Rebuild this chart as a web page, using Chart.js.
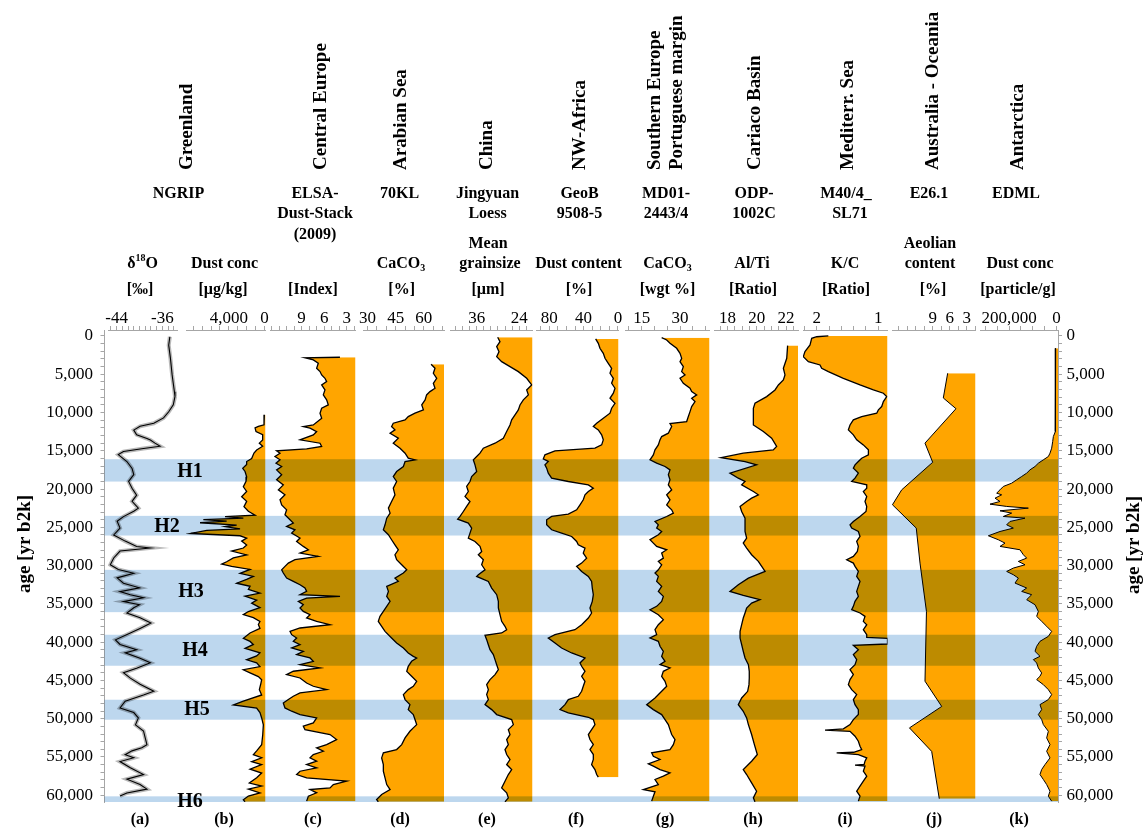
<!DOCTYPE html>
<html>
<head>
<meta charset="utf-8">
<title>Dust records and Heinrich stadials, 0–61 ka</title>
<script src="https://cdn.jsdelivr.net/npm/chart.js@4.4.1/dist/chart.umd.min.js"></script>
<style>
  html, body { margin: 0; padding: 0; background: #ffffff; }
  #box { position: relative; width: 1145px; height: 830px; }
</style>
</head>
<body>
<div id="box"><canvas id="dust" width="1145" height="830"></canvas></div>
<script>
// ---------------------------------------------------------------------------
// Records: [age in yr b2k, value]
// ---------------------------------------------------------------------------
const ngripD18O = [[100,-34.7],[1200,-34.9],[2900,-34.6],[5100,-34.3],[7300,-33.9],[7900,-33.8],[9000,-34.1],[9900,-34.9],[10700,-35.8],[11400,-37.5],
  [11800,-39.9],[12300,-41.0],[12900,-40.5],[13400,-38.7],[13600,-38.1],[14000,-37.3],[14400,-36.4],[14700,-39.3],[15100,-42.8],[15500,-43.7],
  [16400,-42.2],[17300,-41.3],[18100,-41.0],[19000,-41.9],[19900,-41.3],[20800,-40.5],[21600,-41.3],[22500,-40.2],[22900,-41.0],[23600,-42.8],
  [24200,-43.9],[25100,-43.4],[26000,-44.5],[26800,-42.5],[27500,-40.5],[27700,-38.1],[28100,-43.4],[29000,-44.5],[29900,-45.1],[30500,-43.7],
  [31000,-41.0],[31600,-43.9],[32300,-42.8],[32900,-40.0],[33400,-43.4],[33800,-41.6],[34200,-39.3],[34700,-42.8],[35100,-40.0],[35500,-41.0],
  [36200,-42.2],[36800,-39.9],[37500,-38.0],[38200,-39.9],[38800,-41.6],[39700,-44.2],[40300,-43.4],[41000,-40.5],[41400,-42.5],[42100,-39.9],
  [42700,-38.1],[43400,-40.5],[44000,-42.8],[44700,-41.6],[45500,-39.9],[46400,-37.5],[46900,-39.3],[47700,-42.5],[48600,-43.4],[49200,-41.0],
  [49900,-40.2],[50800,-40.7],[51600,-39.3],[52500,-39.0],[53400,-38.7],[53800,-39.6],[54200,-41.3],[54700,-42.5],[55100,-41.0],[55600,-43.4],
  [56400,-41.6],[57300,-39.3],[57900,-42.2],[58600,-39.9],[59200,-38.7],[59700,-42.2],[60100,-43.4]];

const ngripDust = [[10300,30],[11600,67],[11800,700],[12000,1070],[12500,960],[12900,220],[13600,220],[14000,590],[14400,220],[14900,890],
  [15300,1190],[16000,1450],[16400,2010],[16800,2010],[17300,2450],[17700,2190],[18400,2010],[19000,2080],[19700,2380],[20300,2010],
  [21000,2570],[21600,2010],[22300,2310],[22900,1820],[23400,1070],[23600,4430],[23800,2380],[24000,6860],[24200,4250],[24400,7230],
  [24700,3130],[24900,4430],[25200,2750],[25400,6480],[25800,8270],[26100,2750],[26400,2010],[26800,2570],[27300,2010],[27700,2380],
  [28100,3690],[28600,2010],[29000,3500],[29500,4250],[29800,4800],[30100,3690],[30500,1630],[31000,2750],[31400,1260],[31800,2010],
  [32300,3130],[32700,1630],[33100,1820],[33600,520],[34000,2190],[34500,890],[34900,1450],[35500,520],[36000,1820],[36400,2380],
  [36800,1260],[37300,520],[37700,700],[38200,520],[38800,1630],[39500,2380],[39900,1630],[40300,1260],[40800,2190],[41400,520],
  [41800,890],[42300,2010],[42700,890],[43200,520],[43600,2380],[44000,1630],[44500,700],[44900,330],[45500,440],[46200,590],
  [46900,330],[47700,2380],[48200,3500],[48600,890],[49200,520],[49900,330],[50800,140],[52100,210],[53400,330],[54200,890],
  [54700,1260],[55100,330],[55600,1450],[56000,330],[56600,1630],[57100,330],[57700,890],[58400,1710],[58800,330],[59200,1820],
  [59700,520],[60100,1820],[60600,2380],[60850,2190]];

const elsaDustIndex = [[2780,3.9],[2850,8.55],[3130,7.44],[3570,6.78],[4220,7.0],[4650,6.55],[5090,6.33],[5530,5.89],[5960,5.67],[6400,6.33],
  [7050,5.89],[7700,6.11],[8350,5.67],[9000,5.45],[9440,6.33],[10090,6.55],[10750,6.33],[11620,7.44],[11830,8.77],[12050,7.88],
  [12490,7.0],[12920,7.44],[13570,9.21],[14010,6.55],[14440,6.33],[14750,8.33],[15010,12.32],[15310,11.87],[15750,12.54],[16180,11.87],
  [16620,12.4],[17050,11.65],[17490,12.32],[18140,11.65],[18790,12.32],[19450,11.43],[20100,12.09],[20750,11.21],[21400,11.87],[22060,11.65],
  [22710,10.99],[23360,11.21],[24010,10.54],[24450,10.1],[24880,10.99],[25320,9.88],[25750,10.32],[26400,9.21],[26840,9.66],[27490,8.77],
  [27930,8.1],[28360,9.21],[28800,6.78],[29230,9.88],[29670,10.76],[30100,11.21],[30540,11.65],[30970,11.43],[31620,10.99],[32060,10.1],
  [32500,9.21],[32930,8.55],[33360,8.33],[33800,9.21],[34020,3.89],[34240,8.33],[34670,9.43],[35100,8.77],[35540,9.21],[35980,8.77],
  [36410,7.88],[36840,8.33],[37280,7.0],[37720,5.22],[38150,9.21],[38580,10.54],[39020,10.32],[39460,9.66],[39890,10.1],[40320,9.21],
  [40760,10.32],[41200,8.77],[41630,9.66],[42060,7.88],[42500,7.44],[42940,9.21],[43370,6.55],[43800,10.1],[44240,10.99],[44680,9.21],
  [45330,8.33],[45760,7.44],[46200,5.67],[46630,9.21],[47070,10.1],[47500,10.76],[47940,11.43],[48590,11.21],[49020,10.32],[49460,9.21],
  [49900,7.0],[50550,7.44],[50980,8.77],[51420,8.55],[52070,5.22],[52720,4.34],[53380,5.67],[53810,7.0],[54250,6.11],[54680,7.44],
  [55120,7.88],[55550,7.0],[55990,8.33],[56420,7.0],[56860,9.21],[57290,9.66],[57730,8.33],[58160,3.01],[58600,4.78],[59030,5.22],
  [59250,7.88],[59680,7.0],[60120,8.1],[60770,8.33]];

const arabianSeaCaCO3 = [[3700,63.9],[4220,66.0],[4870,65.1],[5530,66.9],[6180,65.1],[6830,66.0],[7270,63.3],[7700,61.5],[8350,60.7],[9000,58.9],
  [9660,59.8],[10090,55.3],[10530,51.7],[10960,50.0],[11400,43.7],[11830,42.8],[12270,44.6],[12700,42.0],[13360,46.4],[14010,43.7],
  [14660,47.3],[15310,50.0],[15970,51.7],[16180,55.3],[16400,50.0],[17050,49.1],[17710,45.5],[18360,43.7],[19010,45.5],[19880,43.7],
  [20750,44.6],[21620,42.8],[22490,41.1],[23140,42.0],[23800,40.2],[24670,39.3],[25320,38.4],[25970,41.1],[26620,42.8],[27280,44.6],
  [27930,46.4],[28580,44.6],[29230,45.5],[29890,48.2],[30540,50.9],[30970,49.1],[31630,44.6],[32060,46.4],[32710,40.2],[33370,41.1],
  [34020,40.2],[34670,42.0],[35320,40.2],[35980,38.4],[36630,36.6],[37280,35.7],[37930,37.5],[38590,39.3],[39460,42.8],[40110,45.5],
  [40760,49.1],[41410,51.7],[41850,54.4],[42070,56.2],[42500,53.5],[43150,51.7],[43810,50.9],[44460,53.5],[45110,56.2],[45760,54.4],
  [46200,51.7],[46850,49.1],[47500,50.0],[48160,52.6],[48810,51.7],[49460,54.4],[50110,55.3],[50770,56.2],[51200,54.4],[51640,52.6],
  [52510,50.0],[53380,48.2],[54030,45.5],[54460,38.4],[55120,37.5],[55990,38.4],[56860,38.4],[57730,39.3],[58600,40.2],[59250,42.0],
  [59900,37.5],[60550,34.8],[60860,35.7]];

const jingyuanGrainsize = [[170,30.09],[740,29.44],[1390,30.37],[2050,29.72],[2700,30.37],[3350,28.97],[4000,26.62],[4660,24.27],[5530,21.92],[6400,20.51],
  [7050,21.92],[7700,21.45],[8350,22.86],[9010,23.8],[9660,24.27],[10310,25.21],[10960,26.15],[11620,26.62],[12490,27.56],[13360,28.5],
  [14010,30.84],[14660,34.13],[15310,35.07],[15750,36.01],[16180,36.95],[16840,36.48],[17710,36.01],[18360,37.42],[19010,37.89],[19660,38.83],
  [20320,38.36],[20970,39.29],[21620,37.89],[22270,38.83],[22930,39.76],[23580,40.7],[23930,41.36],[24450,38.36],[25100,37.42],[25750,37.89],
  [26410,38.36],[26840,36.48],[27490,35.07],[28150,34.6],[28580,35.54],[29230,34.13],[29890,34.6],[30540,33.66],[31190,35.54],[31410,36.01],
  [32060,32.72],[32930,31.78],[33800,30.37],[34670,29.9],[35540,29.9],[36410,29.44],[37280,28.97],[37930,28.03],[38370,27.56],[38800,28.97],
  [39110,33.66],[39670,33.19],[40330,32.72],[40980,32.25],[41630,31.31],[42280,30.84],[42940,30.37],[43590,29.9],[44240,30.84],[44890,32.25],
  [45550,33.19],[46200,32.72],[46850,33.19],[47500,32.72],[48160,33.66],[48810,31.78],[49460,30.37],[50110,26.15],[50770,25.68],[51420,27.09],
  [52070,26.62],[52720,27.56],[53380,27.09],[54030,28.03],[54680,27.56],[55330,26.62],[55990,27.56],[56640,26.15],[57290,27.09],[58160,28.03],
  [59030,28.97],[59680,27.56],[60340,27.09],[60860,28.03]];

const nwAfricaDust = [[390,26.0],[960,22.9],[1610,21.0],[2260,17.1],[2920,15.1],[3570,11.3],[4220,7.4],[4870,9.3],[5530,5.4],[6180,7.4],
  [6830,3.5],[7480,5.4],[8140,9.3],[8790,3.5],[9440,7.4],[10090,9.3],[10750,17.1],[11400,24.8],[11830,28.7],[12270,22.9],
  [12920,19.0],[13570,17.1],[14230,19.0],[14660,26.8],[15010,73.3],[15530,85.0],[16050,86.9],[16400,81.1],[16840,85.0],[17270,83.0],
  [17920,81.1],[18580,77.2],[19010,57.8],[19450,34.5],[19880,28.7],[20320,34.5],[20750,38.4],[21400,40.4],[22060,44.2],[22710,48.1],
  [23270,57.8],[23580,77.2],[24010,83.0],[24670,83.0],[25320,77.2],[25750,65.6],[26190,53.9],[26840,48.1],[27280,46.2],[27710,38.4],
  [28360,40.4],[29020,36.5],[29670,42.3],[30100,48.1],[30760,42.3],[31410,34.5],[32060,30.7],[32930,29.9],[33800,28.7],[34670,29.9],
  [35540,32.6],[36190,30.7],[36850,34.5],[37720,42.3],[38370,50.1],[39020,73.3],[39460,81.1],[40110,73.3],[40760,65.6],[41410,53.9],
  [42070,38.4],[42720,44.2],[43150,42.3],[43810,38.4],[44460,42.3],[45110,38.4],[45760,40.4],[46420,42.3],[47070,46.2],[47500,57.8],
  [48160,61.7],[48810,67.5],[49240,57.8],[49810,34.5],[50110,28.7],[50770,26.8],[51420,30.7],[52070,34.5],[52720,32.6],[53380,28.7],
  [54030,32.6],[54680,28.7],[55330,28.7],[55990,30.7],[56640,26.8],[57290,24.8],[57640,22.9]];

const portugalCaCO3 = [[220,22.82],[520,24.78],[960,26.08],[1610,28.69],[2260,30.0],[2920,30.65],[3350,30.0],[4000,31.3],[4660,30.65],[5090,31.96],
  [5530,30.0],[6180,31.3],[6830,33.92],[7270,34.57],[7700,36.53],[8140,34.57],[8570,35.88],[9220,34.57],[9880,33.92],[10530,33.26],
  [11180,32.61],[11440,26.08],[11830,26.74],[12270,26.08],[12700,25.43],[13140,22.82],[13570,22.17],[14230,21.51],[14880,20.21],[15530,19.56],
  [16180,18.25],[16620,20.86],[17050,24.13],[17490,26.08],[18140,25.43],[18790,26.08],[19450,25.43],[20100,26.74],[20750,24.78],[21400,26.08],
  [22060,24.78],[22710,26.74],[23140,27.39],[23580,24.78],[24230,20.21],[24670,21.51],[25100,20.86],[25540,22.82],[25970,21.51],[26620,18.25],
  [27060,19.56],[27490,20.86],[27930,24.78],[28360,22.82],[29020,23.47],[29450,21.51],[29890,22.82],[30540,21.51],[30970,20.21],[31410,21.51],
  [32060,20.86],[32710,22.82],[33370,21.51],[34020,23.47],[34670,22.82],[35320,20.86],[35760,18.25],[36410,21.51],[37060,23.47],[37720,21.51],
  [38370,20.21],[39020,20.86],[39460,18.25],[39890,21.51],[40540,22.17],[41200,23.47],[41850,22.82],[42500,24.13],[42940,22.17],[43370,26.08],
  [43810,23.47],[44460,22.82],[45110,24.13],[45760,24.78],[46420,22.82],[47290,20.21],[48160,16.95],[48810,19.56],[49460,22.82],[50110,24.13],
  [50770,25.43],[51420,26.08],[52070,26.74],[52720,28.04],[53380,27.39],[54030,26.08],[54460,18.9],[54900,19.56],[55330,22.17],[55900,17.6],
  [56200,19.56],[56640,22.17],[57070,26.08],[57510,23.47],[57940,20.21],[58600,21.51],[59250,15.64],[59550,20.21],[60120,19.56],[60770,18.9]];

const cariacoAlTi = [[1260,22.11],[2920,22.05],[4220,21.82],[5090,21.93],[5740,21.82],[6400,21.48],[7050,21.25],[7920,20.68],[8790,19.88],[9440,19.77],
  [10090,19.77],[10960,19.77],[11620,19.77],[12490,20.45],[13360,21.02],[14440,21.36],[14880,21.13],[15310,19.08],[15900,17.56],[16400,19.2],
  [16840,19.99],[17920,18.17],[18580,18.74],[19010,19.2],[19450,18.97],[20320,19.77],[20750,20.11],[21190,19.65],[21620,19.31],[22270,18.86],
  [22930,18.97],[23800,19.2],[24670,19.2],[25540,19.2],[26410,19.31],[27060,19.08],[27710,19.31],[28580,19.65],[29450,20.11],[30100,20.34],
  [30760,20.57],[31630,19.43],[32500,18.74],[33370,18.17],[33890,19.08],[34450,20.22],[34890,19.65],[35540,19.31],[36190,19.2],[36850,19.08],
  [37720,18.97],[38590,18.86],[39460,18.86],[40330,18.97],[41200,19.08],[42070,19.2],[42940,19.43],[43810,19.49],[44680,19.49],[45550,19.47],
  [46420,19.38],[47290,18.97],[48160,18.74],[49030,19.08],[49900,19.31],[50770,19.43],[52070,19.65],[53380,19.84],[54680,20.04],[55550,19.65],
  [56640,19.08],[57290,19.31],[58380,19.65],[59470,19.99],[60340,19.77],[60860,19.88]];

const mediterrKC = [[0,1.811],[100,2.0],[300,2.081],[1180,2.108],[2050,2.19],[2700,2.217],[3350,2.135],[3790,1.946],[4220,1.919],[4660,1.811],
  [5530,1.567],[6400,1.297],[7050,1.080],[7480,0.918],[7920,0.864],[8570,0.918],[9220,0.945],[9660,0.999],[10090,1.026],[10530,1.270],
  [10960,1.405],[11620,1.459],[12270,1.486],[12920,1.405],[13570,1.351],[14230,1.243],[14880,1.161],[15530,1.161],[15970,1.270],[16400,1.324],
  [16840,1.378],[17270,1.405],[17920,1.324],[18580,1.378],[19010,1.432],[19450,1.188],[19880,1.188],[20320,1.243],[20970,1.188],[21620,1.216],
  [22270,1.188],[22930,1.2],[23580,1.297],[24230,1.405],[24670,1.459],[25100,1.432],[25540,1.324],[26190,1.297],[26840,1.351],[27490,1.324],
  [28150,1.340],[28800,1.405],[29230,1.513],[29670,1.405],[30100,1.378],[30760,1.324],[31410,1.351],[32060,1.297],[32710,1.324],[33370,1.351],
  [34020,1.324],[34670,1.378],[35320,1.405],[35760,1.432],[36190,1.297],[36630,1.216],[37280,1.243],[37720,1.188],[38370,1.243],[39020,1.188],
  [39370,1.188],[39500,0.851],[40240,0.851],[40410,1.405],[40980,1.324],[41630,1.405],[42280,1.351],[42940,1.378],[43590,1.459],[44240,1.405],
  [44890,1.459],[45550,1.486],[46200,1.432],[46850,1.351],[47500,1.405],[48160,1.378],[48810,1.324],[49460,1.324],[50110,1.405],[50770,1.459],
  [51330,1.567],[51500,1.865],[51640,1.459],[52290,1.378],[52940,1.324],[53590,1.297],[54030,1.270],[54380,1.40],[54460,1.676],[54680,1.324],
  [55120,1.188],[55550,1.216],[55980,1.230],[56070,1.378],[56200,1.216],[56860,1.243],[57510,1.188],[58160,1.243],[58810,1.297],[59470,1.351],
  [60120,1.297],[60770,1.324]];

const australiaAeolian = [[4870,6.36],[8100,7.13],[9500,4.89],[14000,10.36],[16500,9.0],[20100,14.47],[22050,16.1],[25100,11.9],[29670,11.24],[36000,10.1],
  [45100,10.36],[48400,7.41],[51200,13.1],[54270,9.18],[60450,7.84]];

const edmlDust = [[1610,3500],[5090,3500],[9440,4900],[12490,6300],[13140,13300],[13790,16100],[14660,20400],[15310,27400],[15750,34400],[16180,55400],
  [16620,76500],[17050,90500],[17490,111600],[17920,125600],[18360,146700],[18790,167700],[19230,188800],[19660,223900],[20100,237900],[20530,251900],
  [20750,230900],[21190,258900],[21620,237900],[21970,280000],[22270,209800],[22490,118600],[22840,237900],[23140,188800],[23580,223900],[23800,132600],
  [24230,195800],[24670,209800],[25100,181800],[25540,237900],[26100,287000],[26620,244900],[27060,216800],[27490,237900],[27930,153700],[28580,139600],
  [29020,125600],[29450,160700],[29890,132600],[30320,181800],[30760,209800],[31190,181800],[31630,160700],[32280,174700],[32930,125600],[33370,146700],
  [33800,104600],[34450,125600],[35110,90500],[35980,76500],[36630,83500],[37280,62500],[37930,41400],[38590,20400],[39240,34400],[39890,69500],
  [40540,83500],[41200,90500],[41850,69500],[42280,97500],[42720,83500],[43370,76500],[44020,62500],[44460,69500],[44890,83500],[45550,55400],
  [46200,34400],[46850,20400],[47500,34400],[48160,69500],[48810,62500],[49460,76500],[50110,62500],[50770,55400],[51640,34400],[52510,41400],
  [53380,27400],[54250,41400],[55120,27400],[55990,48400],[56640,62500],[57290,69500],[57940,55400],[58600,41400],[59470,27400],[60120,34400],
  [60770,20400]];

// Heinrich stadials (top / base, yr b2k)
const heinrichNames = ['H1', 'H2', 'H3', 'H4', 'H5', 'H6'];
const heinrichTop  = [16100, 23500, 30550, 39030, 47520, 60140];
const heinrichBase = [19020, 26070, 36080, 43080, 50130, 60900];
const heinrichLabelAge = [17700, 24900, 33400, 41100, 48900, 60800];

// Age axis
const ageMin = -780, ageMax = 60880;
const ageLabelStep = 5000, ageTickStep = 1000, ageTickMax = 60000;

// ---------------------------------------------------------------------------
// Panel layout and axis settings (left to right)
// ---------------------------------------------------------------------------
const panels = [
  { key: 'a', data: ngripD18O,        min: -45.5, max: -33.45, reverse: false, labels: [-44, -36],   step: 1,     gap: 3.5, width: 69,   fill: false, halo: true },
  { key: 'b', data: ngripDust,        min: -100,  max: 8800,   reverse: true,  labels: [4000, 0],    step: 1000,  gap: 9,   width: 79.5, fill: true },
  { key: 'c', data: elsaDustIndex,    min: 1.83,  max: 13.2,   reverse: true,  labels: [9, 6, 3],    step: 1,     gap: 4.5, width: 85.5, fill: true },
  { key: 'd', data: arabianSeaCaCO3,  min: 27.8,  max: 70.8,   reverse: false, labels: [30, 45, 60], step: 5,     gap: 8,   width: 80.5, fill: true },
  { key: 'e', data: jingyuanGrainsize,min: 20.28, max: 43.52,  reverse: true,  labels: [36, 24],     step: 2,     gap: 6,   width: 82.5, fill: true },
  { key: 'f', data: nwAfricaDust,     min: -0.6,  max: 95.4,   reverse: true,  labels: [80, 40, 0],  step: 10,    gap: 3.5, width: 82.5, fill: true },
  { key: 'g', data: portugalCaCO3,    min: 8.46,  max: 41.55,  reverse: false, labels: [15, 30],     step: 5,     gap: 6.5, width: 84.5, fill: true },
  { key: 'h', data: cariacoAlTi,      min: 17.08, max: 22.82,  reverse: false, labels: [18, 20, 22], step: 0.5,   gap: 4.5, width: 84,   fill: true },
  { key: 'i', data: mediterrKC,       min: 0.851, max: 2.222,  reverse: true,  labels: [2, 1],       step: 0.2,   gap: 5,   width: 84.5, fill: true },
  { key: 'j', data: australiaAeolian, min: 1.45,  max: 16.18,  reverse: true,  labels: [9, 6, 3],    step: 1.5,   gap: 4.5, width: 83.5, fill: true, thin: true },
  { key: 'k', data: edmlDust,         min: -6300, max: 322100, reverse: true,  labels: [200000, 0],  step: 50000, gap: 4.5, width: 78,   fill: true, thin: true }
];

// Header text layout
const regionTitles = [['Greenland', 187], ['Central Europe', 321], ['Arabian Sea', 401], ['China', 487], ['NW-Africa', 580],
  ['Southern Europe', 655], ['Portuguese margin', 677], ['Cariaco Basin', 755], ['Mediterr. Sea', 848],
  ['Australia - Oceania', 933], ['Antarctica', 1018]];
const siteNames = [['NGRIP', 178.5, 194], ['ELSA-', 315, 194], ['Dust-Stack', 315, 214], ['(2009)', 315, 235], ['70KL', 399.5, 194],
  ['Jingyuan', 487.5, 194], ['Loess', 487.5, 214], ['GeoB', 579.5, 194], ['9508-5', 579.5, 214], ['MD01-', 666, 194], ['2443/4', 666, 214],
  ['ODP-', 754, 194], ['1002C', 754, 214], ['M40/4_', 846, 194], ['SL71', 850, 214], ['E26.1', 929, 194], ['EDML', 1016, 194]];
const proxyNames = [
  [[['δ', ''], ['18', 'sup'], ['O', '']], 142.5, 264], [[['[‰]', '']], 140, 290],
  [[['Dust conc', '']], 224.5, 264], [[['[µg/kg]', '']], 223, 290],
  [[['[Index]', '']], 313, 290],
  [[['CaCO', ''], ['3', 'sub']], 401, 264], [[['[%]', '']], 401.7, 290],
  [[['Mean', '']], 488, 244], [[['grainsize', '']], 490, 264], [[['[µm]', '']], 488, 290],
  [[['Dust content', '']], 578.5, 264], [[['[%]', '']], 579, 290],
  [[['CaCO', ''], ['3', 'sub']], 667.5, 264], [[['[wgt %]', '']], 667.5, 290],
  [[['Al/Ti', '']], 752, 264], [[['[Ratio]', '']], 753, 290],
  [[['K/C', '']], 845, 264], [[['[Ratio]', '']], 846, 290],
  [[['Aeolian', '']], 930, 244], [[['content', '']], 930, 264], [[['[%]', '']], 933, 290],
  [[['Dust conc', '']], 1020, 264], [[['[particle/g]', '']], 1018, 290]];
const panelLetters = [['(a)', 140], ['(b)', 224], ['(c)', 313], ['(d)', 400], ['(e)', 487], ['(f)', 576],
  ['(g)', 665], ['(h)', 753], ['(i)', 845], ['(j)', 934], ['(k)', 1019]];
const heinrichLabelX = [190, 167, 191, 195, 197, 190];

const SERIF = '"Liberation Serif", "Times New Roman", serif';
const AXIS_GREY = '#a6a6a6';
const ORANGE = '#FFA500';
const BAND_BLUE = '#BDD7EE';

function stepTicks(min, max, step) {
  const out = [];
  for (let k = Math.ceil(min / step - 1e-9); k * step <= max + 1e-9; k++) out.push(+(k * step).toFixed(6));
  return out;
}

function drawText(ctx, text, x, y, o) {
  ctx.save();
  ctx.translate(x, y);
  if (o.rotate) ctx.rotate(o.rotate);
  if (o.sx || o.sy) ctx.scale(o.sx || 1, o.sy || 1);
  ctx.font = o.font;
  ctx.textAlign = o.align || 'center';
  ctx.textBaseline = o.baseline || 'middle';
  ctx.fillStyle = o.color || '#000';
  ctx.fillText(text, 0, 0);
  ctx.restore();
}

// text with super/subscript parts, centred on (cx, cy)
function drawRich(ctx, parts, cx, cy, size) {
  const big = `bold ${size}px ${SERIF}`, small = `bold ${Math.round(size * 0.62)}px ${SERIF}`;
  ctx.save();
  ctx.textBaseline = 'middle';
  ctx.textAlign = 'left';
  ctx.fillStyle = '#000';
  let total = 0;
  parts.forEach(([t, m]) => { ctx.font = m ? small : big; total += ctx.measureText(t).width; });
  let x = cx - total / 2;
  parts.forEach(([t, m]) => {
    ctx.font = m ? small : big;
    const dy = m === 'sup' ? -size * 0.33 : (m === 'sub' ? size * 0.25 : 0);
    ctx.fillText(t, x, cy + dy);
    x += ctx.measureText(t).width;
  });
  ctx.restore();
}

// Heinrich bands are multiplied over the records so orange turns dark gold
const heinrichPlugin = {
  id: 'heinrichBands',
  afterDatasetsDraw(chart) {
    const { ctx, chartArea, scales } = chart;
    const y = scales.y;
    ctx.save();
    ctx.globalCompositeOperation = 'multiply';
    ctx.fillStyle = BAND_BLUE;
    heinrichTop.forEach((top, i) => {
      const y1 = Math.max(chartArea.top, y.getPixelForValue(top));
      const y2 = Math.min(chartArea.bottom, y.getPixelForValue(heinrichBase[i]));
      ctx.fillRect(chartArea.left, y1, chartArea.right - chartArea.left, y2 - y1);
    });
    ctx.restore();
    heinrichNames.forEach((name, i) => {
      drawText(ctx, name, heinrichLabelX[i], y.getPixelForValue(heinrichLabelAge[i]),
        { font: `bold 20px ${SERIF}` });
    });
  }
};

const headerPlugin = {
  id: 'headers',
  afterDraw(chart) {
    const ctx = chart.ctx;
    regionTitles.forEach(([t, x]) => drawText(ctx, t, x, 170,
      { font: `bold 19px ${SERIF}`, rotate: -Math.PI / 2, align: 'left' }));
    siteNames.forEach(([t, x, y]) => drawText(ctx, t, x, y, { font: `bold 16px ${SERIF}` }));
    proxyNames.forEach(([parts, x, y]) => drawRich(ctx, parts, x, y, 16));
    panelLetters.forEach(([t, x]) => drawText(ctx, t, x, 820, { font: `bold 16px ${SERIF}` }));
    drawText(ctx, 'age [yr b2k]', 25, 544, { font: `bold 19px ${SERIF}`, rotate: -Math.PI / 2 });
    drawText(ctx, 'age [yr b2k]', 1134, 545, { font: `bold 19px ${SERIF}`, rotate: -Math.PI / 2 });
  }
};

// ---------------------------------------------------------------------------
// Scales: one shared age axis (left + mirrored right), eleven value axes
// stacked side by side along the top, separated by empty spacer axes.
// ---------------------------------------------------------------------------
const ageTicks = stepTicks(0, ageTickMax, ageTickStep);
function ageAxis(position, width, pad) {
  return {
    type: 'linear', position, min: ageMin, max: ageMax, reverse: true,
    afterBuildTicks: s => { s.ticks = ageTicks.map(v => ({ value: v })); },
    afterFit: s => { s.width = width; },
    ticks: { autoSkip: false, padding: pad, color: '#000', font: { family: SERIF, size: 17 },
      callback: v => (v % ageLabelStep === 0 ? v.toLocaleString('en-US') : '') },
    grid: { drawOnChartArea: false, tickLength: 4, color: AXIS_GREY },
    border: { color: AXIS_GREY }
  };
}

const scales = { y: ageAxis('left', 104.5, 7.5), y2: ageAxis('right', 87, 4.5) };
const datasets = [];

panels.forEach((p, i) => {
  const axId = 'x_' + p.key;
  scales['gap_' + p.key] = {
    type: 'linear', position: 'top', stack: 'panels', stackWeight: p.gap, weight: 100 - 2 * i,
    min: 0, max: 1, grid: { display: false }, border: { display: false }, ticks: { display: false },
    afterFit: s => { s.height = 30; }
  };
  scales[axId] = {
    type: 'linear', position: 'top', stack: 'panels', stackWeight: p.width, weight: 99 - 2 * i,
    min: p.min, max: p.max, reverse: p.reverse,
    afterBuildTicks: s => { s.ticks = stepTicks(p.min, p.max, p.step).map(v => ({ value: v })); },
    afterFit: s => { s.height = 30; },
    ticks: {
      autoSkip: false, maxRotation: 0, minRotation: 0, padding: -3, color: '#000',
      font: { family: SERIF, size: 17 },
      callback: v => (p.labels.some(l => Math.abs(l - v) < 1e-9) ? Number(v).toLocaleString('en-US') : '')
    },
    grid: { drawOnChartArea: false, tickLength: 4, color: AXIS_GREY },
    border: { color: AXIS_GREY }
  };
  const pts = p.data.map(([age, v]) => ({ x: v, y: age }));
  datasets.push({
    data: pts, xAxisID: axId, yAxisID: 'y',
    borderColor: '#000', borderWidth: p.halo ? 1.1 : (p.thin ? 1 : 1.3), pointRadius: 0, tension: 0,
    fill: p.fill ? { value: p.reverse ? p.min : p.max } : false,
    backgroundColor: ORANGE
  });
  if (p.halo) {
    // measurement envelope under the NGRIP isotope curve
    datasets.push({
      data: pts, xAxisID: axId, yAxisID: 'y',
      borderColor: 'rgba(125,125,125,0.55)', borderWidth: 4, pointRadius: 0, tension: 0, fill: false
    });
  }
});

new Chart(document.getElementById('dust'), {
  type: 'line',
  data: { datasets },
  options: {
    responsive: false,
    devicePixelRatio: 1,
    animation: false,
    indexAxis: 'y',
    events: [],
    layout: { padding: { top: 300, bottom: 28, left: 0, right: 0 } },
    plugins: { legend: { display: false }, tooltip: { enabled: false } },
    scales
  },
  plugins: [heinrichPlugin, headerPlugin]
});
</script>
</body>
</html>
